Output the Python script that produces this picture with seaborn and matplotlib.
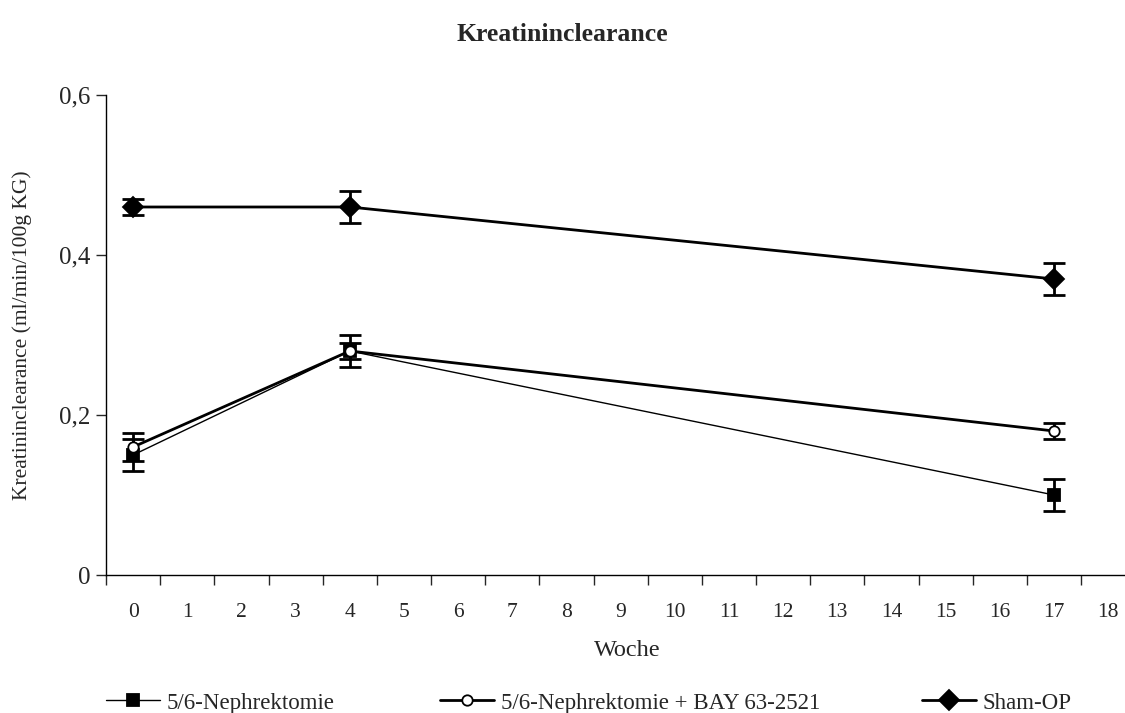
import matplotlib
matplotlib.use('Agg')
import matplotlib.pyplot as plt
import seaborn as sns
import pandas as pd
from matplotlib.ticker import FixedLocator, FuncFormatter

# ── Data ─────────────────────────────────────────────────────────────────────
weeks = [0, 4, 17]
groups = ['5/6-Nephrektomie', '5/6-Nephrektomie + BAY 63-2521', 'Sham-OP']
nx_mean = [0.15, 0.28, 0.10]
nx_sem = [0.02, 0.02, 0.02]
bay_mean = [0.16, 0.28, 0.18]
bay_sem = [0.018, 0.01, 0.01]
sham_mean = [0.46, 0.46, 0.37]
sham_sem = [0.01, 0.02, 0.02]
week_ticks = list(range(0, 19))
y_ticks = [0, 0.2, 0.4, 0.6]

df = pd.DataFrame({
    'Woche': weeks * 3,
    'Wert': nx_mean + bay_mean + sham_mean,
    'Fehler': nx_sem + bay_sem + sham_sem,
    'Gruppe': [g for g in groups for _ in weeks],
})

# ── Style ────────────────────────────────────────────────────────────────────
sns.set_style('white')
plt.rcParams['font.family'] = ['Liberation Serif', 'DejaVu Serif']

fig = plt.figure(figsize=(11.25, 7.13), dpi=100)
ax = fig.add_axes([106 / 1125, 1 - 575 / 713, (1125 - 106) / 1125, (575 - 95) / 713])

styles = {
    groups[0]: dict(marker='s', mfc='black', ms=8, lw=1.0),
    groups[1]: dict(marker='o', mfc='white', ms=7.5, lw=2.0),
    groups[2]: dict(marker='D', mfc='black', ms=10, lw=2.0),
}

for g in groups:
    sub = df[df['Gruppe'] == g]
    st = styles[g]
    sns.lineplot(data=sub, x='Woche', y='Wert', ax=ax, color='black',
                 linewidth=st['lw'], marker=st['marker'], markersize=st['ms'],
                 markerfacecolor=st['mfc'], markeredgecolor='black',
                 markeredgewidth=1.3, errorbar=None, zorder=3)
    ax.errorbar(sub['Woche'], sub['Wert'], yerr=sub['Fehler'], fmt='none',
                ecolor='black', elinewidth=2, capsize=8, capthick=2, zorder=2)

# ── Axes ─────────────────────────────────────────────────────────────────────
ax.set_xlim(-0.5, 18.31)
ax.set_ylim(0, 0.6)
ax.set_xticks(week_ticks)
ax.xaxis.set_minor_locator(FixedLocator([t - 0.5 for t in week_ticks] + [18.5]))
ax.tick_params(axis='x', which='major', length=0, labelsize=15.5, pad=20)
ax.tick_params(axis='x', which='minor', length=7, width=1, direction='out', bottom=True)
ax.set_yticks(y_ticks)
ax.yaxis.set_major_formatter(FuncFormatter(lambda v, p: f'{v:g}'.replace('.', ',')))
ax.tick_params(axis='y', length=7, width=1, direction='out', left=True, labelsize=18, pad=4)

for side in ['top', 'right']:
    ax.spines[side].set_visible(False)
for side in ['left', 'bottom']:
    ax.spines[side].set_color('black')
    ax.spines[side].set_linewidth(1)

ax.set_xlabel('Woche', fontsize=17.5)
ax.xaxis.set_label_coords((627 - 106) / 1019, -(650 - 575) / 480, transform=ax.transAxes)
ax.xaxis.label.set_va('center')
ax.set_ylabel('Kreatininclearance (ml/min/100g KG)', fontsize=15.5)
ax.yaxis.set_label_coords(-(106 - 22) / 1019, 0.5)
ax.yaxis.label.set_va('center')
fig.suptitle('Kreatininclearance', fontsize=18.5, fontweight='bold', y=0.968)

# ── Legend (three separate entries along the bottom) ─────────────────────────
legend_x = [106 / 1125, 440 / 1125, 922 / 1125]
for g, lx in zip(groups, legend_x):
    st = styles[g]
    h = plt.Line2D([], [], color='black', lw=st['lw'], marker=st['marker'],
                   ms=st['ms'], mfc=st['mfc'], mec='black', mew=1.3)
    fig.legend([h], [g], loc='center left', bbox_to_anchor=(lx, 1 - 703 / 713),
               frameon=False, fontsize=16.5, handlelength=2.35, handletextpad=0.3,
               borderaxespad=0, borderpad=0)

fig.savefig('out.png', dpi=100)
